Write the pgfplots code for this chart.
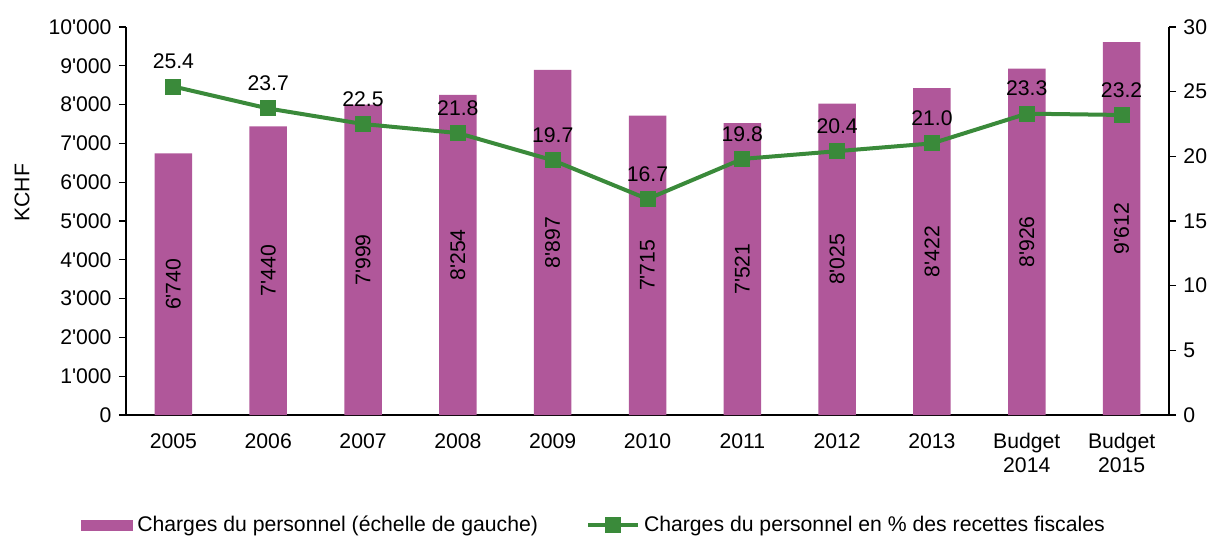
\documentclass[border=0pt]{standalone}
\usepackage{fontspec}
\setmainfont{Liberation Sans}
\usepackage{pgfplots}
\pgfplotsset{compat=1.18}
\usepackage{pgfplotstable}
\definecolor{barc}{HTML}{B0579A}
\definecolor{linec}{HTML}{3A8A3A}
\newcommand\fs{\fontsize{10.6}{12}\selectfont}

\pgfplotstableread{
x v p
0 6740 25.4
1 7440 23.7
2 7999 22.5
3 8254 21.8
4 8897 19.7
5 7715 16.7
6 7521 19.8
7 8025 20.4
8 8422 21.0
9 8926 23.3
10 9612 23.2
}\data

\begin{document}
\fs
\begin{tikzpicture}
\useasboundingbox (-63pt,-61pt) rectangle (543.5pt,207.5pt);
\begin{axis}[
  at={(0,0)}, anchor=south west,
  scale only axis, width=521.5pt, height=194pt,
  xmin=-0.5, xmax=10.5, ymin=0, ymax=10000,
  axis y line*=left, axis x line*=bottom,
  xtick={0,...,10},
  xticklabels={2005,2006,2007,2008,2009,2010,2011,2012,2013,{Budget\\2014},{Budget\\2015}},
  xticklabel style={align=center, font=\fs, yshift=-2pt},
  x tick style={draw=none},
  ytick={0,1000,...,10000},
  scaled y ticks=false,
  yticklabel style={font=\fs},
  tick align=outside,
  major tick length=3.5pt,
  y tick style={black, line width=0.6pt},
  axis line style={black, line width=0.6pt, -},
  /pgf/number format/assume math mode=true,
  /pgf/number format/1000 sep={\textquotesingle},
  ylabel={KCHF},
  every axis y label/.style={at={(axis description cs:-0.0997,0.573)}, rotate=90, anchor=center, font=\fs},
  legend style={draw=none, fill=none, at={(0.4497,-0.2835)}, anchor=center, font=\fs},
  legend columns=2,
  legend cell align=left,
  /tikz/every even column/.append style={column sep=22pt},
]
\addplot[ybar, bar width=18.75pt, fill=barc, draw=none,
  legend image code/.code={\fill[barc] (0pt,-2.75pt) rectangle (26pt,2.75pt);}]
  table[x=x,y=v] {\data};
\addlegendentry{Charges du personnel (échelle de gauche)}
\addplot[draw=none, mark=none, forget plot, point meta=explicit,
  nodes near coords={\pgfmathprintnumber[assume math mode=true,1000 sep={\textquotesingle}]{\pgfplotspointmeta}},
  every node near coord/.append style={rotate=90, anchor=center, font=\fs, text=black}]
  table[x=x, y expr=\thisrow{v}/2, meta=v] {\data};
\addlegendimage{linec,
  legend image code/.code={\draw[linec, line width=2pt] (0pt,0pt) -- (25pt,0pt); \fill[linec] (8.75pt,-3.75pt) rectangle (16.25pt,3.75pt);}}
\addlegendentry{Charges du personnel en \% des recettes fiscales}
\end{axis}
\begin{axis}[
  at={(0,0)}, anchor=south west,
  scale only axis, width=521.5pt, height=194pt,
  xmin=-0.5, xmax=10.5, ymin=0, ymax=30,
  axis y line*=right, axis x line=none,
  ytick={0,5,...,30},
  yticklabel style={font=\fs},
  /pgf/number format/assume math mode=true,
  tick align=outside,
  major tick length=3.5pt,
  y tick style={black, line width=0.6pt},
  axis line style={black, line width=0.6pt, -},
]
\addplot[linec, line width=2pt, mark=square*, mark size=3.75pt, mark options={line width=0pt, fill=linec},
  point meta=explicit,
  nodes near coords={\pgfmathprintnumber[assume math mode=true,fixed,precision=1,zerofill]{\pgfplotspointmeta}},
  every node near coord/.append style={anchor=center, yshift=12.5pt, font=\fs, text=black}]
  table[x=x,y=p,meta=p] {\data};
\end{axis}
\end{tikzpicture}
\end{document}
